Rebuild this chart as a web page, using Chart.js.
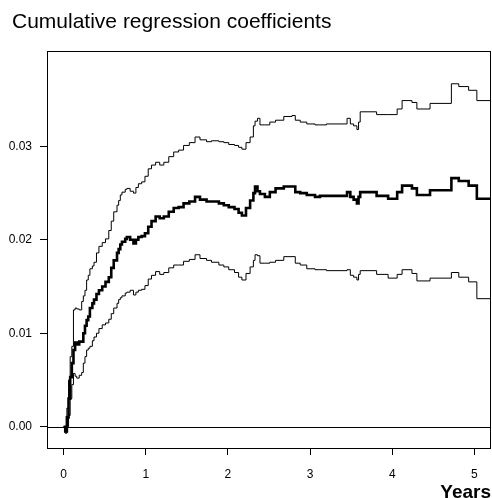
<!DOCTYPE html>
<html>
<head>
<meta charset="utf-8">
<script src="https://cdn.jsdelivr.net/npm/chart.js@4"></script>
<style>
    html, body { margin: 0; padding: 0; background: #fff; }
</style>
</head>
<body>
<canvas id="grafico" width="492" height="498"></canvas>
<script>
// tempos (anos) onde a curva muda de degrau
const anos = [0.00, 0.02, 0.04, 0.06, 0.08, 0.10, 0.12, 0.14, 0.16, 0.19,
    0.22, 0.24, 0.26, 0.28, 0.30, 0.32, 0.35, 0.37, 0.40, 0.43,
    0.47, 0.51, 0.55, 0.58, 0.61, 0.65, 0.67, 0.69, 0.71, 0.75,
    0.77, 0.81, 0.85, 0.88, 0.91, 0.95, 0.99, 1.03, 1.07, 1.12,
    1.17, 1.22, 1.28, 1.34, 1.40, 1.46, 1.53, 1.60, 1.66, 1.74,
    1.80, 1.89, 1.95, 2.01, 2.08, 2.13, 2.17, 2.22, 2.27, 2.31,
    2.33, 2.36, 2.39, 2.45, 2.51, 2.58, 2.68, 2.78, 2.82, 2.88,
    2.96, 3.06, 3.12, 3.20, 3.45, 3.49, 3.53, 3.57, 3.59, 3.61,
    3.81, 3.95, 4.06, 4.12, 4.24, 4.30, 4.46, 4.72, 4.81, 4.93,
    5.03, 5.19];

const estimativa = [0.0000, -0.0005, 0.0010, 0.0030, 0.0053, 0.0068, 0.0082, 0.0090, 0.0088, 0.0091,
    0.0091, 0.0100, 0.0108, 0.0114, 0.0118, 0.0127, 0.0132, 0.0136, 0.0142, 0.0146,
    0.0150, 0.0155, 0.0160, 0.0170, 0.0178, 0.0186, 0.0190, 0.0195, 0.0198, 0.0201,
    0.0203, 0.0200, 0.0196, 0.0200, 0.0203, 0.0204, 0.0207, 0.0214, 0.0220, 0.0225,
    0.0223, 0.0225, 0.0230, 0.0234, 0.0235, 0.0239, 0.0241, 0.0246, 0.0243, 0.0241,
    0.0241, 0.0239, 0.0237, 0.0235, 0.0233, 0.0229, 0.0226, 0.0234, 0.0242, 0.0250,
    0.0257, 0.0252, 0.0249, 0.0246, 0.0251, 0.0255, 0.0257, 0.0257, 0.0251, 0.0250,
    0.0248, 0.0246, 0.0247, 0.0247, 0.0251, 0.0246, 0.0243, 0.0239, 0.0246, 0.0251,
    0.0247, 0.0244, 0.0251, 0.0258, 0.0255, 0.0248, 0.0253, 0.0266, 0.0263, 0.0258,
    0.0244, 0.0244];

const superior = [0.0000, -0.0002, 0.0020, 0.0050, 0.0075, 0.0086, 0.0125, 0.0127, 0.0126, 0.0125,
    0.0134, 0.0140, 0.0146, 0.0157, 0.0162, 0.0169, 0.0172, 0.0176, 0.0186, 0.0193,
    0.0197, 0.0201, 0.0210, 0.0220, 0.0230, 0.0237, 0.0242, 0.0248, 0.0251, 0.0254,
    0.0255, 0.0252, 0.0250, 0.0256, 0.0260, 0.0262, 0.0268, 0.0276, 0.0280, 0.0283,
    0.0280, 0.0283, 0.0289, 0.0294, 0.0296, 0.0301, 0.0304, 0.0310, 0.0307, 0.0305,
    0.0306, 0.0305, 0.0304, 0.0302, 0.0301, 0.0299, 0.0297, 0.0304, 0.0310, 0.0322,
    0.0327, 0.0330, 0.0323, 0.0323, 0.0326, 0.0328, 0.0332, 0.0333, 0.0328, 0.0326,
    0.0324, 0.0323, 0.0323, 0.0324, 0.0330, 0.0324, 0.0322, 0.0318, 0.0326, 0.0337,
    0.0334, 0.0334, 0.0340, 0.0349, 0.0347, 0.0340, 0.0346, 0.0367, 0.0364, 0.0360,
    0.0349, 0.0349];

const inferior = [0.0000, -0.0007, 0.0000, 0.0012, 0.0030, 0.0045, 0.0057, 0.0054, 0.0052, 0.0055,
    0.0058, 0.0068, 0.0075, 0.0082, 0.0084, 0.0086, 0.0092, 0.0096, 0.0100, 0.0105,
    0.0109, 0.0111, 0.0115, 0.0121, 0.0127, 0.0132, 0.0136, 0.0138, 0.0140, 0.0143,
    0.0144, 0.0146, 0.0141, 0.0144, 0.0146, 0.0147, 0.0151, 0.0158, 0.0162, 0.0166,
    0.0163, 0.0165, 0.0170, 0.0173, 0.0173, 0.0177, 0.0179, 0.0184, 0.0180, 0.0178,
    0.0176, 0.0173, 0.0171, 0.0168, 0.0165, 0.0160, 0.0157, 0.0164, 0.0171, 0.0178,
    0.0184, 0.0183, 0.0175, 0.0175, 0.0176, 0.0178, 0.0182, 0.0182, 0.0175, 0.0173,
    0.0169, 0.0168, 0.0168, 0.0167, 0.0168, 0.0162, 0.0160, 0.0157, 0.0163, 0.0167,
    0.0163, 0.0159, 0.0163, 0.0168, 0.0164, 0.0156, 0.0159, 0.0165, 0.0160, 0.0155,
    0.0137, 0.0137];

const ticksX = [0, 1, 2, 3, 4, 5];
const ticksY = [0, 0.01, 0.02, 0.03];

const titulo = 'Cumulative regression coefficients';
const rotuloX = 'Years';

const pontos = (valores) => valores.map((v, i) => ({ x: anos[i], y: v }));

const moldura = {
    id: 'moldura',
    beforeDatasetsDraw(chart) {
        const ctx = chart.ctx;
        const a = chart.chartArea;
        const y0 = Math.round(chart.scales.y.getPixelForValue(0)) + 0.5;
        ctx.save();
        ctx.strokeStyle = '#000';
        ctx.lineWidth = 1;
        ctx.beginPath();
        ctx.moveTo(a.left, y0);
        ctx.lineTo(a.right, y0);
        ctx.stroke();
        ctx.restore();
    },
    afterDraw(chart) {
        const ctx = chart.ctx;
        const a = chart.chartArea;
        ctx.save();
        ctx.strokeStyle = '#000';
        ctx.lineWidth = 1;
        ctx.strokeRect(a.left - 0.5, a.top - 0.5, a.right - a.left + 1, a.bottom - a.top + 1);

        ctx.fillStyle = '#000';
        ctx.textAlign = 'left';
        ctx.textBaseline = 'alphabetic';
        ctx.font = '21px "Liberation Sans", Arial, sans-serif';
        ctx.fillText(titulo, 12, 28);

        ctx.textAlign = 'right';
        ctx.font = 'bold 19px "Liberation Sans", Arial, sans-serif';
        ctx.fillText(rotuloX, 491, 498);
        ctx.restore();
    }
};

const fonteTicks = { family: '"Liberation Sans", Arial, sans-serif', size: 12 };

new Chart(document.getElementById('grafico'), {
    type: 'line',
    data: {
        datasets: [
            { data: pontos(superior), borderColor: '#000', borderWidth: 1, stepped: true, pointRadius: 0, fill: false },
            { data: pontos(inferior), borderColor: '#000', borderWidth: 1, stepped: true, pointRadius: 0, fill: false },
            { data: pontos(estimativa), borderColor: '#000', borderWidth: 2.6, stepped: true, pointRadius: 0, fill: false }
        ]
    },
    options: {
        responsive: false,
        animation: false,
        layout: { padding: { top: 52, right: 2, left: 0, bottom: 0 } },
        plugins: {
            legend: { display: false },
            tooltip: { enabled: false }
        },
        scales: {
            x: {
                type: 'linear',
                min: -0.19,
                max: 5.19,
                afterBuildTicks: (s) => { s.ticks = ticksX.map(v => ({ value: v })); },
                afterFit: (s) => { s.height = 50; },
                grid: { drawOnChartArea: false, tickLength: 7, tickColor: '#000', tickWidth: 1 },
                border: { display: false },
                ticks: { padding: 12, maxRotation: 0, color: '#000', font: fonteTicks }
            },
            y: {
                min: -0.00228,
                max: 0.0401,
                afterBuildTicks: (s) => { s.ticks = ticksY.map(v => ({ value: v })); },
                afterFit: (s) => { s.width = 48; },
                grid: { drawOnChartArea: false, tickLength: 8, tickColor: '#000', tickWidth: 1 },
                border: { display: false },
                ticks: { padding: 8, color: '#000', font: fonteTicks, callback: (v) => v.toFixed(2) }
            }
        }
    },
    plugins: [moldura]
});
</script>
</body>
</html>
